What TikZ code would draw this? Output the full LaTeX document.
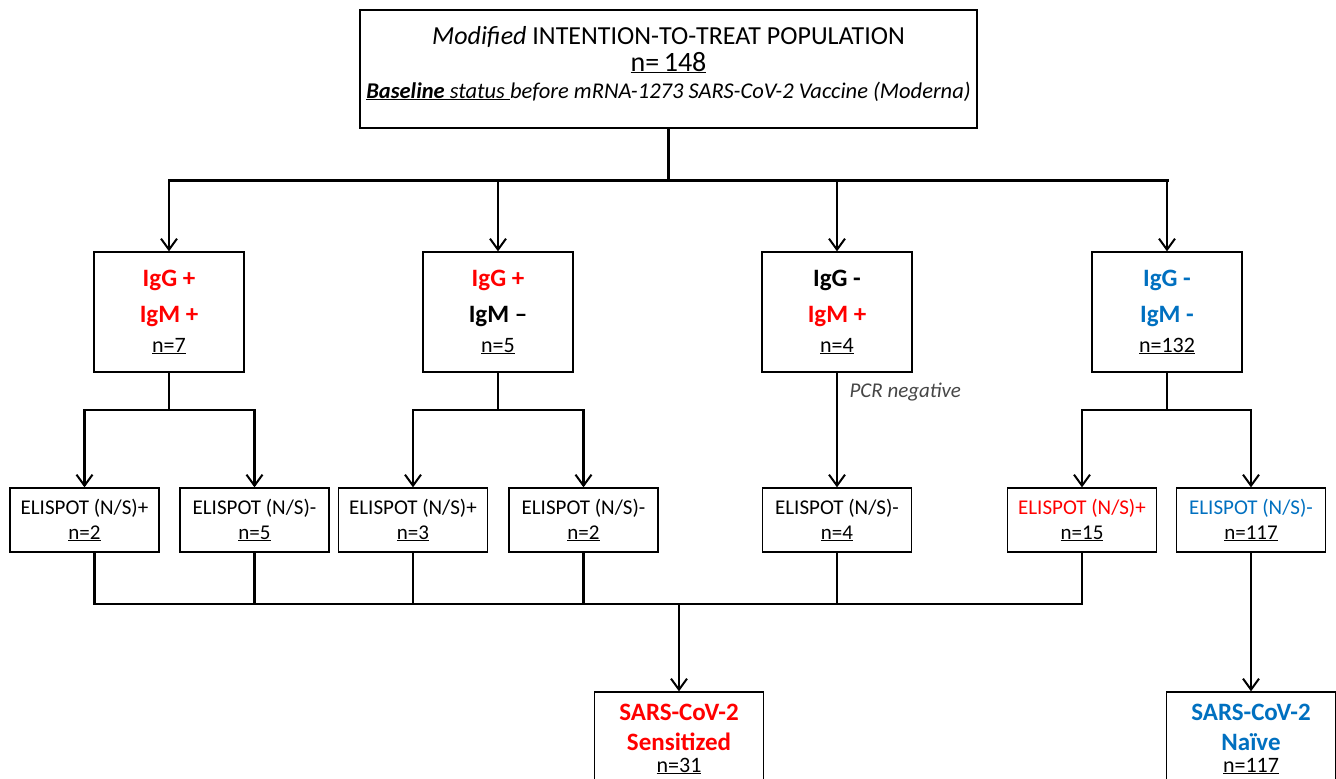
\documentclass[tikz,border=0pt]{standalone}
\usepackage{fontspec}
\setmainfont{Carlito}
\usetikzlibrary{arrows.meta}
\definecolor{ired}{RGB}{255,0,0}
\definecolor{iblue}{RGB}{0,112,192}
\definecolor{pcrgray}{RGB}{70,70,70}
\newcommand\nlab[1]{{\mdseries\fontsize{22}{26}\selectfont\underline{#1}}}

\begin{document}
\begin{tikzpicture}[
    x=1pt, y=-1pt,
    box/.style={draw, line width=1.3pt, align=center, inner sep=0pt},
    grp/.style={box, minimum width=150pt, minimum height=120pt, font=\fontsize{25}{36}\selectfont\bfseries},
    eli/.style={box, minimum width=149pt, minimum height=64pt, font=\fontsize{21}{25}\selectfont},
    res/.style={box, minimum width=169pt, minimum height=94pt, font=\fontsize{25}{30}\selectfont\bfseries},
    link/.style={line width=2.4pt, line cap=rect},
    arr/.style={link, -{Straight Barb[length=11pt,width=16pt,line width=2pt]}}
]
    \clip (0,0) rectangle (1336,779);
    \fill[white] (0,0) rectangle (1336,779);

    % population
    \node[box, minimum width=617pt, minimum height=118pt, font=\fontsize{26}{27}\selectfont] (itt) at (668.5,69)
        {\textit{Modified} INTENTION-TO-TREAT POPULATION\\
         {\fontsize{28}{27}\selectfont\underline{n=\,148}}\\
         {\fontsize{22.5}{25}\selectfont\underline{\textbf{\textit{Baseline}} \textit{status }}\textit{before mRNA-1273 SARS-CoV-2 Vaccine (Moderna)}}\rule[-14pt]{0pt}{0pt}};

    % serology groups
    \node[grp] (g1) at (169,312) {\textcolor{ired}{IgG +}\\ \textcolor{ired}{IgM +}\\[-6pt] \nlab{n=7}};
    \node[grp] (g2) at (498,312) {\textcolor{ired}{IgG +}\\ IgM --\\[-6pt] \nlab{n=5}};
    \node[grp] (g3) at (837,312) {IgG -\\ \textcolor{ired}{IgM +}\\[-6pt] \nlab{n=4}};
    \node[grp] (g4) at (1167,312) {\textcolor{iblue}{IgG -}\\ \textcolor{iblue}{IgM -}\\[-6pt] \nlab{n=132}};

    % ELISPOT results
    \foreach \nm/\x/\col/\sgn/\n in {e1/84.5/black/+/2, e2/254.5/black/-/5, e3/413/black/+/3, e4/583.5/black/-/2,
                                     e5/837/black/-/4, e6/1082/ired/+/15, e7/1251/iblue/-/117} {
        \node[eli] (\nm) at (\x,520) {\textcolor{\col}{ELISPOT (N/S)\sgn}\\ \underline{n=\n}};
    }

    % final status
    \node[res] (sens) at (679,739) {\textcolor{ired}{SARS-CoV-2}\\ \textcolor{ired}{Sensitized}\\[-8pt] \nlab{n=31}};
    \node[res] (naive) at (1251,739) {\textcolor{iblue}{SARS-CoV-2}\\ \textcolor{iblue}{Naïve}\\[-8pt] \nlab{n=117}};

    \coordinate (bus1) at (0,180);
    \coordinate (bus2) at (0,410);
    \coordinate (bus3) at (0,604);

    % population -> groups
    \draw[link] (itt.south) -- (itt.south |- bus1);
    \draw[link, line width=3pt] (g1.north |- bus1) -- (g4.north |- bus1);
    \foreach \g in {g1,g2,g3,g4}
        \draw[arr] (\g.north |- bus1) -- (\g.north);

    % groups -> ELISPOT
    \foreach \g/\a/\b in {g1/e1/e2, g2/e3/e4, g4/e6/e7} {
        \draw[link] (\g.south) -- (\g.south |- bus2);
        \draw[link] (\a.north |- bus2) -- (\b.north |- bus2);
        \draw[arr] (\a.north |- bus2) -- (\a.north);
        \draw[arr] (\b.north |- bus2) -- (\b.north);
    }
    \draw[arr] (g3) -- node[pos=0.17, anchor=west, xshift=8pt, font=\fontsize{21}{24}\selectfont\itshape, text=pcrgray] (pcr) {PCR negative} (e5);

    % ELISPOT -> status
    \draw[link] ([xshift=10pt]e1.south) -- ([xshift=10pt]e1.south |- bus3);
    \foreach \e in {e2,e3,e4,e5,e6}
        \draw[link] (\e.south) -- (\e.south |- bus3);
    \draw[link] ([xshift=10pt]e1.south |- bus3) -- (e6.south |- bus3);
    \draw[arr] (sens.north |- bus3) -- (sens.north);
    \draw[arr] (e7) -- (naive);
\end{tikzpicture}
\end{document}
